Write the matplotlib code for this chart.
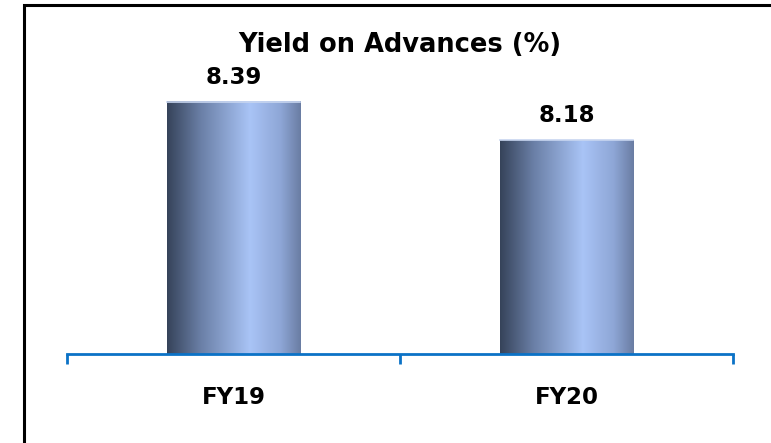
import numpy as np
import matplotlib.pyplot as plt
from matplotlib.colors import LinearSegmentedColormap
from matplotlib.patches import Rectangle

categories = ['FY19', 'FY20']
values = [8.39, 8.18]
title = 'Yield on Advances (%)'

fig = plt.figure(figsize=(7.71, 4.43), dpi=100)
ax = fig.add_axes([67/771, 89/443, 666/771, 334/443])

x = np.arange(len(categories))
bars = ax.bar(x, values, width=0.4, color='none', edgecolor='none', zorder=2)
ax.set_xlim(-0.5, 1.5)
ax.set_ylim(7.0, 7.0 + 334/181.3)

# horizontal shading for the cylinder look
cmap = LinearSegmentedColormap.from_list('cyl', [
    (0.0, '#36435a'), (0.25, '#6a7fa6'), (0.62, '#a9c4f6'),
    (0.85, '#8ea6d6'), (1.0, '#6a7da3')])
grad = np.linspace(0, 1, 256).reshape(1, -1)
for b in bars:
    x0, w, h = b.get_x(), b.get_width(), b.get_height()
    ax.imshow(grad, cmap=cmap, aspect='auto', zorder=2,
              extent=[x0, x0 + w, 7.0, h])
    ax.plot([x0, x0 + w], [h, h], color='#c8d6f0', lw=1.2, zorder=3)
    ax.text(x0 + w/2, h + 0.07, f'{h:.2f}', ha='center', va='bottom',
            fontsize=16.5, fontweight='bold')

for s in ['left', 'right', 'top']:
    ax.spines[s].set_visible(False)
ax.spines['bottom'].set_color('#0b72c6')
ax.spines['bottom'].set_linewidth(2)
ax.spines['bottom'].set_zorder(4)
ax.set_yticks([])
ax.set_xticks(x)
ax.set_xticklabels(categories, fontsize=16.5, fontweight='bold')
ax.tick_params(axis='x', which='major', length=0, pad=23)
ax.set_xticks([-0.5, 0.5, 1.5], minor=True)
ax.tick_params(axis='x', which='minor', length=7, width=2, color='#0b72c6',
               direction='out')

fig.text(400/771, 1 - 45/443, title, ha='center', va='center',
         fontsize=18.5, fontweight='bold')

# frame (only left and top edges visible in the crop)
fig.patches.append(Rectangle((24/771, -0.1), 1.2, 1 - 5/443 + 0.1,
                             transform=fig.transFigure, fill=False,
                             edgecolor='black', linewidth=2.2))

fig.savefig('out.png', dpi=100)
